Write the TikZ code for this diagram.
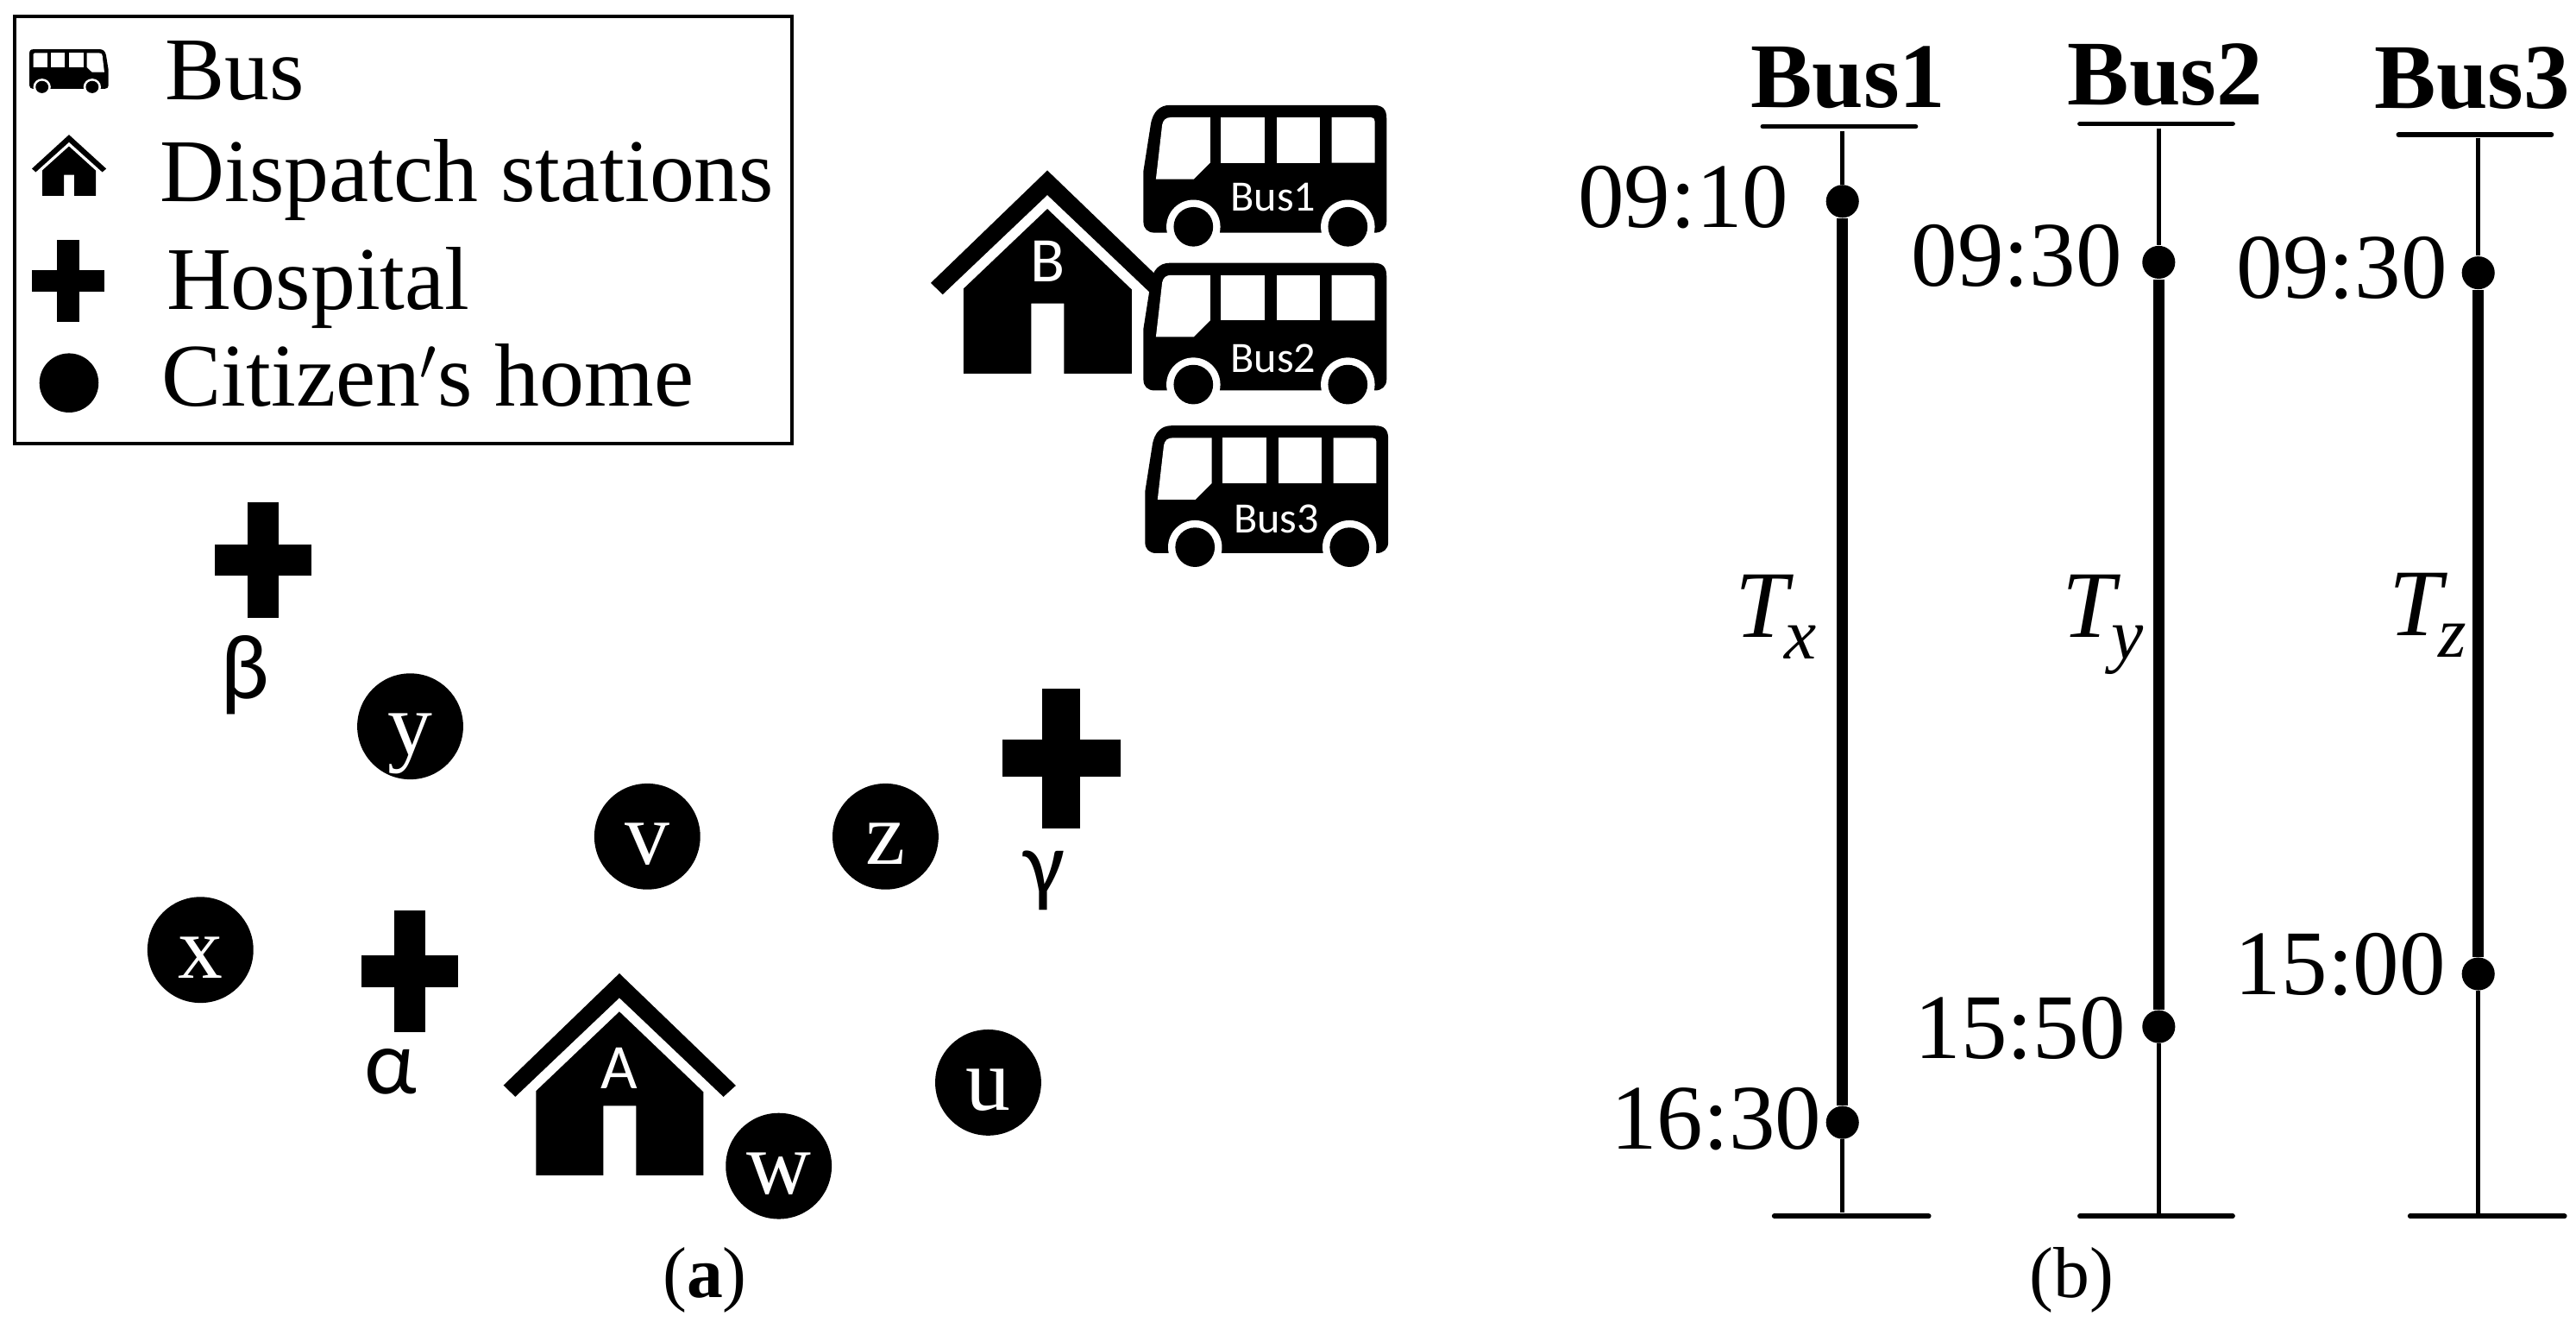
\documentclass[tikz,border=0pt]{standalone}
\usepackage{fontspec}
\setmainfont{Liberation Serif}
\newfontfamily\iconfont{Carlito}
\usepackage{tikz}
\newcommand{\bigtext}{\fontsize{31}{31}\selectfont}
\newcommand{\timefont}{\fontsize{32}{32}\selectfont}
\newcommand{\icontext}{\iconfont\fontsize{15}{15}\selectfont}
\newcommand{\spanmark}[1]{\textit{T}\kern-1.2mm\raisebox{-2.6mm}{\fontsize{25}{25}\selectfont\textit{#1}}}
\tikzset{
  pics/busicon/.style={code={
    \fill (80,0) -- (700,0) .. controls (728,0) and (740,12) .. (740,40) -- (740,355)
      .. controls (740,375) and (725,388) .. (705,388) -- (35,388)
      .. controls (12,388) and (0,375) .. (0,355) -- (0,200) -- (22,60)
      .. controls (28,20) and (50,0) .. (80,0) -- cycle;
    \fill[white] (152,370) circle (82) (622,370) circle (82);
    \fill (152,370) circle (60) (622,370) circle (60);
    \fill[white] (38,225) -- (57,60) .. controls (60,45) and (68,37) .. (85,37) -- (203,37)
      -- (203,175) -- (153,225) -- cycle;
    \fill[white] (235,37) rectangle (370,175);
    \fill[white] (406,37) rectangle (537,175);
    \fill[white] (573,37) -- (692,37) .. controls (700,37) and (704,41) .. (704,49) -- (704,175) -- (573,175) -- cycle;
  }},
  pics/houseicon/.style={code={
    \fill (0,0) -- (405,390) -- (362,429) -- (0,85) -- (-362,429) -- (-403,389) -- cycle;
    \fill (-290,409) -- (0,133) -- (292,412) -- (292,702) -- (58,702) -- (58,460)
      -- (-56,460) -- (-56,702) -- (-290,702) -- cycle;
  }},
  % unit cross, the arms are set by the scales
  pics/crossicon/.style={code={
    \fill (-.5,-.133) rectangle (.5,.133);
    \fill (-.16,-.5) rectangle (.16,.5);
  }},
  home/.style={circle,fill=black,text=white,minimum size=64.5*0.2mm,inner sep=0pt,
    text height=6.8mm,text depth=0pt,font=\bigtext},
  legendtext/.style={anchor=base west,inner sep=0pt,font=\bigtext},
  timetext/.style={anchor=east,inner sep=0pt,font=\timefont},
  bustext/.style={inner sep=0pt,text=white,font=\icontext},
  hometext/.style={inner sep=0pt,text=white,font=\iconfont\fontsize{22}{22}\selectfont},
  greektext/.style={inner sep=0pt,font=\iconfont\fontsize{32}{32}\selectfont},
  headtext/.style={inner sep=0pt,font=\timefont\bfseries},
  spantext/.style={anchor=base west,inner sep=0pt,font=\fontsize{33}{33}\selectfont},
  captext/.style={inner sep=0pt,font=\fontsize{25}{25}\selectfont},
  stopdot/.style={circle,fill=black,minimum size=20*0.2mm,inner sep=0pt},
  thinline/.style={line width=.55mm},
  thickline/.style={line width=1.4mm},
  endbar/.style={line width=.6mm,line cap=round}
}

\begin{document}
\begin{tikzpicture}[x=.2mm,y=-.2mm]
  \useasboundingbox (0,0) rectangle (1568,808.6);
  % legend
  \node[draw,line width=.4mm,minimum width=473*.2mm,minimum height=260*.2mm,inner sep=0pt] (legend) at (245.5,140) {};
  \pic[xscale=-.065,yscale=.062] at (66,30) {busicon};
  \pic[xscale=.056,yscale=.053] at (42,82) {houseicon};
  \pic[xscale=44,yscale=50] at (41.5,171) {crossicon};
  \node[circle,fill=black,minimum size=36*.2mm,inner sep=0pt] (legendhome) at (42,233) {};
  \node[legendtext] (legendbus) at (100,60.5) {Bus};
  \node[legendtext] (legendstation) at (97,122.5) {Dispatch stations};
  \node[legendtext] (legendhospital) at (101,188) {Hospital};
  \node[legendtext] (legendcitizen) at (98,247) {Citizen$'$s home};

  % map, house B goes under the buses
  \pic[scale=.176] at (637.5,103.7) {houseicon};
  \node[hometext] (stationB) at (638,159) {B};
  \pic[scale=.2] at (696,64) {busicon};
  \pic[scale=.2] at (696,160) {busicon};
  \pic[scale=.2] at (697,259) {busicon};
  \node[bustext] (busA) at (775,120) {Bus1};
  \node[bustext] (busB) at (775,218) {Bus2};
  \node[bustext] (busC) at (777,316) {Bus3};
  \pic[scale=.175] at (377,592.3) {houseicon};
  \node[hometext] (stationA) at (377,650) {A};

  \pic[xscale=59,yscale=70.5] at (160.2,340.7) {crossicon};
  \pic[xscale=59,yscale=74] at (249.5,591) {crossicon};
  \pic[xscale=72,yscale=85] at (646,461.5) {crossicon};
  \node[greektext] (beta) at (149,411) {β};
  \node[greektext] (alpha) at (238,652) {α};
  \node[greektext] (gamma) at (635.5,536) {γ};

  \node[home] (y) at (249.7,442) {y};
  \node[home] (v) at (394,509) {v};
  \node[home] (z) at (539,509) {z};
  \node[home] (x) at (122,578) {x};
  \node[home] (u) at (601.5,658.7) {u};
  \node[home] (w) at (474,709.5) {w};
  \node[captext] (capa) at (429,779) {(\textbf{a})};

  % bus 1
  \node[headtext] (headA) at (1125,47) {Bus1};
  \coordinate (barAl) at (1073,77);
  \coordinate (barAr) at (1166,77);
  \coordinate (topA) at (1121.5,80);
  \coordinate (footAl) at (1080,740);
  \coordinate (footAr) at (1174,740);
  \coordinate (endA) at (1121.5,738);
  \node[stopdot] (startA) at (1121.5,122.5) {};
  \node[stopdot] (stopA) at (1121.5,683) {};
  \draw[endbar] (barAl) -- (barAr);
  \draw[endbar] (footAl) -- (footAr);
  \draw[thinline] (topA) -- (startA);
  \draw[thickline] (startA) -- (stopA);
  \draw[thinline] (stopA) -- (endA);
  \node[timetext] (timeAa) at (1089,120) {09:10};
  \node[timetext] (timeAb) at (1109,681) {16:30};
  \node[spantext] (spanA) at (1056,388) {\spanmark{x}};

  % bus 2
  \node[headtext] (headB) at (1318,45.5) {Bus2};
  \coordinate (barBl) at (1266,75.3);
  \coordinate (barBr) at (1359,75.3);
  \coordinate (topB) at (1314,78);
  \coordinate (footBl) at (1266,740);
  \coordinate (footBr) at (1359,740);
  \coordinate (endB) at (1314,740);
  \node[stopdot] (startB) at (1314,159.6) {};
  \node[stopdot] (stopB) at (1314,624.7) {};
  \draw[endbar] (barBl) -- (barBr);
  \draw[endbar] (footBl) -- (footBr);
  \draw[thinline] (topB) -- (startB);
  \draw[thickline] (startB) -- (stopB);
  \draw[thinline] (stopB) -- (endB);
  \node[timetext] (timeBa) at (1292,156) {09:30};
  \node[timetext] (timeBb) at (1294,626) {15:50};
  \node[spantext] (spanB) at (1255,388) {\spanmark{y}};

  % bus 3
  \node[headtext] (headC) at (1505,47.6) {Bus3};
  \coordinate (barCl) at (1460,82);
  \coordinate (barCr) at (1553,82);
  \coordinate (topC) at (1508.5,84);
  \coordinate (footCl) at (1467,740);
  \coordinate (footCr) at (1561,740);
  \coordinate (endC) at (1508.5,740);
  \node[stopdot] (startC) at (1508.5,166) {};
  \node[stopdot] (stopC) at (1508.5,592.6) {};
  \draw[endbar] (barCl) -- (barCr);
  \draw[endbar] (footCl) -- (footCr);
  \draw[thinline] (topC) -- (startC);
  \draw[thickline] (startC) -- (stopC);
  \draw[thinline] (stopC) -- (endC);
  \node[timetext] (timeCa) at (1490,163) {09:30};
  \node[timetext] (timeCb) at (1489,587) {15:00};
  \node[spantext] (spanC) at (1454,387) {\spanmark{z}};
  \node[captext] (capb) at (1261,779) {(b)};
\end{tikzpicture}
\end{document}
